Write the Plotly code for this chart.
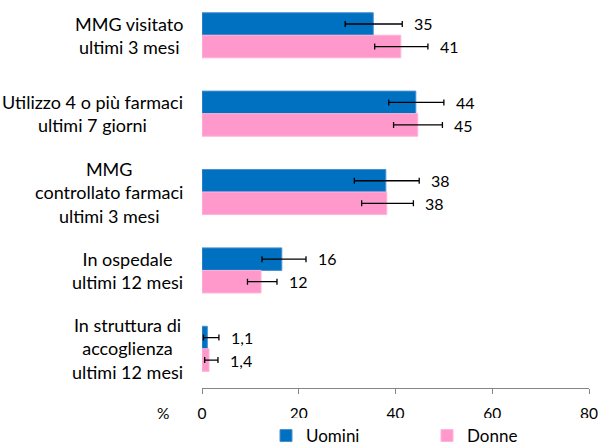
import plotly.graph_objects as go

categories = [
    "MMG visitato<br>ultimi 3 mesi",
    "Utilizzo 4 o più farmaci<br>ultimi 7 giorni",
    "MMG<br>controllato farmaci<br>ultimi 3 mesi",
    "In ospedale<br>ultimi 12 mesi",
    "In struttura di<br>accoglienza<br>ultimi 12 mesi",
]
uomini = [35.4, 44.2, 38.0, 16.5, 1.1]
uomini_lo = [29.6, 38.6, 31.5, 12.4, 0.3]
uomini_hi = [41.4, 50.0, 44.9, 21.5, 3.5]
uomini_labels = ["35", "44", "38", "16", "1,1"]
donne = [41.1, 44.6, 38.2, 12.2, 1.45]
donne_lo = [35.7, 39.6, 33.0, 9.4, 0.55]
donne_hi = [46.7, 49.7, 43.7, 15.5, 3.3]
donne_labels = ["41", "45", "38", "12", "1,4"]
x_ticks = [0, 20, 40, 60, 80]

FONT = "Lato"
TXT = "#000000"
ids = list(range(len(categories)))

fig = go.Figure()
fig.add_trace(go.Bar(
    name="Uomini", y=ids, x=uomini, orientation="h",
    marker=dict(color="#0070C0", line=dict(color="#4A90D0", width=1)),
    error_x=dict(type="data", symmetric=False,
                 array=[h - v for h, v in zip(uomini_hi, uomini)],
                 arrayminus=[v - l for v, l in zip(uomini, uomini_lo)],
                 color="#000000", thickness=1.3, width=3),
))
fig.add_trace(go.Bar(
    name="Donne", y=ids, x=donne, orientation="h",
    marker=dict(color="#FF99CC", line=dict(color="#FFB3D9", width=1)),
    error_x=dict(type="data", symmetric=False,
                 array=[h - v for h, v in zip(donne_hi, donne)],
                 arrayminus=[v - l for v, l in zip(donne, donne_lo)],
                 color="#000000", thickness=1.3, width=3),
))

annotations = []
for i, c in enumerate(categories):
    annotations.append(dict(
        x=-0.044, xref="paper", y=i, yref="y", text=c, showarrow=False,
        xanchor="right", yanchor="middle", align="center",
        font=dict(family=FONT, size=18, color=TXT)))
for i in ids:
    annotations.append(dict(
        x=uomini_hi[i], y=i, yref="y", yshift=11.5, text=uomini_labels[i],
        showarrow=False, xanchor="left", xshift=10,
        font=dict(family=FONT, size=16, color=TXT)))
    annotations.append(dict(
        x=donne_hi[i], y=i, yref="y", yshift=-11.5, text=donne_labels[i],
        showarrow=False, xanchor="left", xshift=10,
        font=dict(family=FONT, size=16, color=TXT)))
annotations.append(dict(
    x=-0.1, xref="paper", y=-0.065, yref="paper", text="%", showarrow=False,
    xanchor="center", yanchor="middle",
    font=dict(family=FONT, size=15.5, color=TXT)))

fig.update_layout(
    width=598, height=446,
    margin=dict(l=202, r=9, t=0, b=58, autoexpand=False),
    paper_bgcolor="white", plot_bgcolor="white",
    barmode="group", bargap=0.425, bargroupgap=0,
    font=dict(family=FONT, size=15.5, color=TXT),
    showlegend=True,
    legend=dict(orientation="h", xref="container", yref="container",
                x=266 / 598, xanchor="left", y=10 / 446, yanchor="middle",
                entrywidth=116, entrywidthmode="pixels",
                font=dict(family=FONT, size=17, color=TXT), traceorder="normal"),
    annotations=annotations,
    xaxis=dict(range=[0, 80], tickvals=x_ticks, ticktext=[str(t) for t in x_ticks],
               showgrid=False, zeroline=False, showline=True, linecolor="#868686",
               linewidth=1, ticks="outside", ticklen=5, tickcolor="#868686",
               ticklabelstandoff=6, automargin=False,
               tickfont=dict(family=FONT, size=15.5, color=TXT)),
    yaxis=dict(range=[4.5, -0.45], showticklabels=False, showgrid=False,
               zeroline=False, showline=False, ticks="", automargin=False),
)
fig.write_html("out.html", config={"displayModeBar": False},
               post_script="document.body.style.margin='0';document.body.style.overflow='hidden';")
